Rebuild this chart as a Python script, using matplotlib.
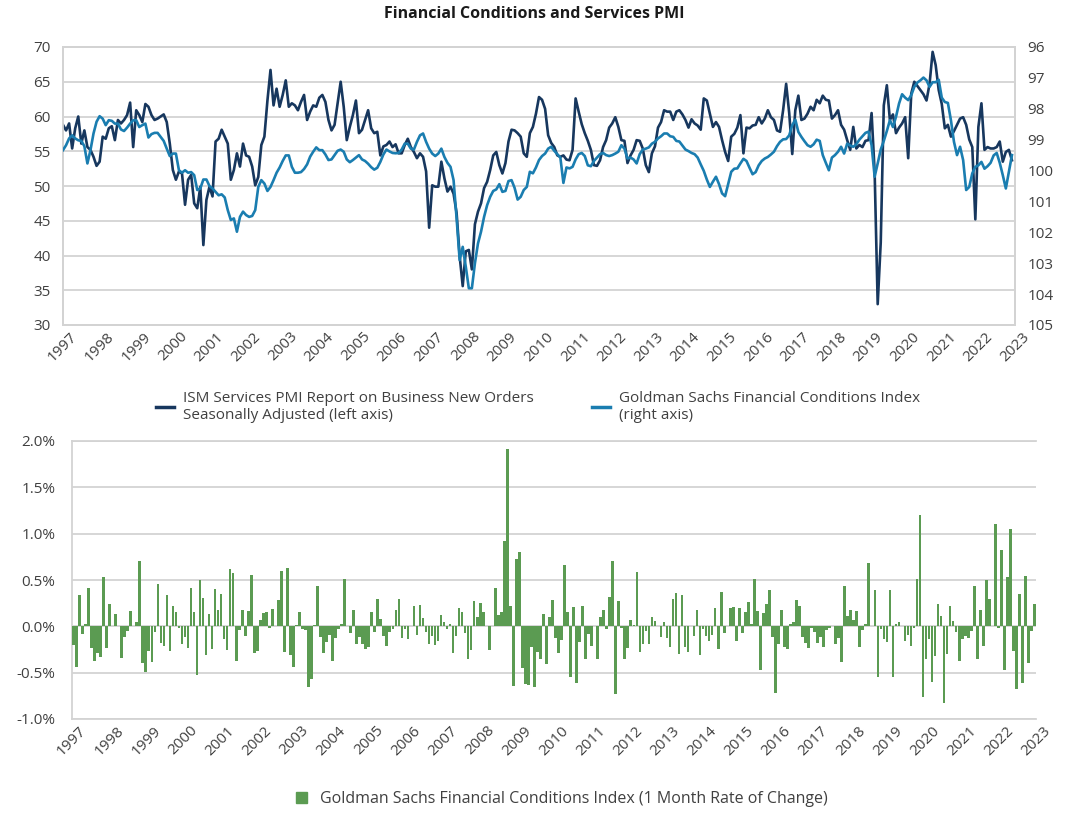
import numpy as np
import matplotlib
matplotlib.use("Agg")
import matplotlib.pyplot as plt
from matplotlib.lines import Line2D
from matplotlib.patches import Patch

plt.rcParams['font.family'] = ['Open Sans', 'DejaVu Sans']

# ISM Services New Orders, monthly (left axis)
ism = [
    58.8, 58.0, 59.0, 55.4, 58.3, 60.0, 56.1, 58.0, 55.6, 55.2, 54.2, 52.9,
    53.5, 57.1, 56.8, 58.3, 58.6, 56.6, 59.5, 59.0, 59.5, 60.2, 62.0, 55.6,
    60.9, 60.2, 59.2, 61.8, 61.4, 60.2, 59.5, 59.7, 60.0, 60.3, 59.2, 56.1,
    52.3, 50.9, 52.1, 51.8, 47.3, 50.9, 51.6, 47.5, 46.8, 49.9, 41.5, 48.0,
    49.9, 48.5, 56.4, 56.8, 58.1, 57.1, 56.1, 50.9, 52.3, 54.7, 52.8, 56.1,
    54.4, 54.2, 52.8, 50.1, 51.3, 55.9, 57.1, 62.3, 66.7, 61.6, 64.0, 61.4,
    63.1, 65.2, 61.4, 61.9, 61.6, 60.9, 62.1, 63.1, 59.5, 60.7, 61.6, 61.4,
    62.7, 63.1, 62.1, 59.5, 58.0, 58.8, 61.9, 65.0, 61.4, 56.6, 58.5, 60.2,
    62.3, 57.6, 58.1, 59.5, 60.9, 58.3, 57.6, 57.8, 54.4, 55.7, 55.9, 56.4,
    55.6, 56.0, 54.7, 54.7, 55.9, 56.8, 55.6, 54.9, 54.0, 54.7, 54.2, 52.1,
    44.0, 50.1, 49.9, 49.9, 53.5, 51.1, 49.2, 49.9, 48.9, 46.1, 39.9, 35.6,
    40.6, 40.8, 38.0, 44.5, 46.3, 47.5, 49.7, 50.6, 52.3, 54.4, 54.9, 53.0,
    51.8, 53.3, 56.4, 58.1, 58.0, 57.6, 57.1, 54.7, 54.2, 57.6, 58.5, 60.4,
    62.8, 62.4, 61.1, 57.3, 56.2, 55.6, 54.4, 54.2, 54.4, 53.8, 53.7, 55.2,
    62.6, 60.7, 58.9, 57.6, 56.5, 55.2, 53.0, 52.9, 53.7, 55.6, 56.6, 58.4,
    59.0, 59.9, 58.5, 56.6, 56.5, 53.3, 54.4, 55.2, 56.6, 56.5, 55.4, 53.0,
    52.0, 54.7, 55.7, 58.4, 59.2, 60.9, 60.7, 60.7, 59.5, 60.7, 60.9, 60.3,
    59.5, 58.4, 59.6, 59.0, 58.7, 58.1, 62.6, 62.3, 60.4, 58.5, 59.2, 58.5,
    56.6, 54.9, 53.6, 57.1, 57.5, 58.4, 60.2, 54.7, 58.4, 58.3, 58.7, 58.8,
    59.9, 59.0, 59.7, 60.9, 59.9, 59.5, 58.0, 57.8, 60.9, 64.7, 60.5, 54.6,
    60.9, 63.0, 59.5, 59.7, 60.4, 61.4, 60.9, 62.4, 61.9, 63.0, 62.4, 62.3,
    59.7, 60.2, 60.9, 58.8, 58.1, 56.6, 55.2, 58.5, 55.4, 55.9, 55.6, 56.5,
    56.6, 60.5, 52.0, 33.0, 41.9, 61.6, 64.5, 59.5, 60.3, 57.6, 58.4, 59.0,
    59.9, 54.0, 63.3, 65.0, 64.4, 63.8, 63.2, 62.3, 64.7, 69.3, 67.4, 63.8,
    61.8, 58.3, 58.8, 57.1, 57.9, 58.8, 59.7, 59.9, 58.8, 56.7, 55.6, 45.2,
    58.5, 61.9, 55.2, 55.6, 55.4, 55.4, 55.6, 56.4, 53.5, 54.9, 55.2, 53.7,
]

# Goldman Sachs Financial Conditions Index, monthly (right axis)
gsfci = [
    99.34, 99.18, 98.96, 98.86, 98.96, 99.02, 99.04, 99.21, 99.77, 99.34, 98.80, 98.42,
    98.24, 98.32, 98.53, 98.37, 98.39, 98.48, 98.48, 98.67, 98.72, 98.61, 98.48, 98.37,
    98.37, 98.59, 98.53, 98.48, 98.93, 98.82, 98.78, 98.78, 98.91, 99.04, 99.29, 99.53,
    99.45, 99.45, 99.99, 100.07, 99.99, 100.07, 100.05, 100.15, 100.63, 100.58, 100.29, 100.29,
    100.50, 100.58, 100.69, 100.80, 100.77, 100.87, 101.28, 101.60, 101.55, 101.98, 101.50, 101.33,
    101.44, 101.50, 101.47, 101.28, 100.53, 100.31, 100.42, 100.66, 100.53, 100.31, 100.07, 99.90,
    99.69, 99.51, 99.51, 99.88, 100.07, 100.07, 100.05, 99.95, 99.80, 99.55, 99.39, 99.25,
    99.34, 99.34, 99.48, 99.66, 99.64, 99.50, 99.36, 99.32, 99.39, 99.64, 99.73, 99.66,
    99.58, 99.50, 99.64, 99.69, 99.78, 99.89, 99.97, 99.91, 99.72, 99.48, 99.32, 99.38,
    99.43, 99.44, 99.43, 99.32, 99.13, 99.13, 99.29, 99.32, 99.07, 98.86, 98.80, 99.07,
    99.29, 99.45, 99.53, 99.45, 99.29, 99.56, 99.75, 99.88, 100.31, 101.55, 102.90, 102.47,
    103.11, 103.81, 103.81, 103.00, 102.36, 101.98, 101.50, 101.12, 100.85, 100.66, 100.61, 100.44,
    100.69, 100.66, 100.34, 100.31, 100.56, 100.94, 100.85, 100.63, 100.53, 100.04, 100.09, 99.90,
    99.66, 99.53, 99.45, 99.29, 99.23, 99.36, 99.47, 99.58, 100.40, 99.90, 99.93, 99.88,
    99.64, 99.47, 99.43, 99.53, 99.83, 99.86, 99.69, 99.58, 99.47, 99.43, 99.50, 99.53,
    99.50, 99.45, 99.39, 99.18, 99.29, 99.61, 99.58, 99.64, 99.77, 99.47, 99.32, 99.29,
    99.25, 99.13, 99.07, 98.96, 98.89, 98.80, 98.80, 98.89, 98.91, 99.04, 99.06, 99.19,
    99.32, 99.37, 99.43, 99.47, 99.58, 99.80, 100.01, 100.29, 100.53, 100.36, 100.20, 100.44,
    100.74, 100.83, 100.44, 100.04, 99.94, 99.93, 99.77, 99.62, 99.69, 99.91, 100.12, 100.05,
    99.83, 99.69, 99.61, 99.56, 99.48, 99.39, 99.21, 99.07, 98.99, 98.98, 98.86, 98.53,
    98.35, 98.75, 98.91, 99.05, 99.18, 99.23, 99.15, 99.00, 99.04, 99.50, 99.75, 99.99,
    99.58, 99.50, 99.39, 99.23, 99.45, 99.13, 99.19, 99.23, 99.15, 99.00, 98.89, 98.78,
    98.74, 99.18, 100.20, 99.77, 99.32, 99.04, 98.72, 98.37, 98.59, 98.26, 97.83, 97.53,
    97.64, 97.72, 97.56, 97.29, 97.15, 97.08, 96.99, 97.08, 97.29, 97.14, 97.14, 97.06,
    97.64, 97.78, 97.81, 98.37, 99.07, 99.50, 99.23, 99.66, 100.63, 100.53, 100.09, 99.88,
    99.83, 99.72, 99.94, 99.86, 99.75, 99.51, 99.43, 99.75, 100.15, 100.58, 100.04, 99.50,
]

# GSFCI 1-month rate of change, % (bottom panel)
gsfci_chg = [
    -0.205, -0.44, 0.335, -0.08, 0.03, 0.41, -0.23, -0.37, -0.29, -0.33, 0.53, -0.23,
    0.245, 0.0, 0.13, 0.0, -0.34, -0.115, -0.05, 0.17, 0.0, 0.047, 0.70, -0.40,
    -0.49, -0.27, -0.385, -0.06, 0.46, -0.18, -0.21, 0.335, -0.27, 0.215, 0.15, -0.02,
    -0.19, -0.11, -0.23, 0.41, 0.16, -0.52, 0.50, 0.31, -0.31, 0.13, -0.245, 0.40,
    0.18, 0.35, -0.14, -0.26, 0.62, 0.58, -0.37, -0.04, 0.18, -0.10, 0.17, 0.55,
    -0.29, -0.27, 0.07, 0.14, 0.15, -0.02, 0.19, 0.0, 0.28, 0.60, -0.28, 0.63,
    -0.31, -0.44, 0.01, 0.15, -0.025, -0.04, -0.66, -0.57, 0.01, 0.44, -0.115, -0.29,
    -0.17, -0.09, -0.37, -0.125, -0.025, 0.03, 0.515, 0.0, -0.07, 0.18, -0.19, -0.115,
    -0.19, -0.25, -0.22, 0.16, -0.06, 0.30, 0.075, -0.105, -0.21, -0.06, -0.03, 0.18,
    0.29, -0.125, -0.03, -0.135, 0.0, 0.215, -0.09, 0.225, 0.095, -0.06, -0.19, -0.10,
    -0.20, -0.16, 0.12, 0.045, -0.025, 0.03, -0.285, -0.105, 0.195, 0.15, -0.07, -0.35,
    -0.255, 0.27, 0.10, 0.25, 0.15, 0.0, -0.255, 0.0, 0.41, 0.12, 0.15, 0.92,
    1.91, 0.22, -0.64, 0.73, 0.80, -0.45, -0.62, -0.63, -0.22, -0.655, -0.28, -0.35,
    0.13, -0.41, 0.10, 0.28, -0.125, -0.285, -0.145, 0.665, 0.15, -0.55, 0.205, -0.61,
    -0.17, 0.215, -0.35, -0.08, -0.21, 0.0, -0.35, 0.10, 0.18, -0.025, 0.32, 0.70,
    -0.73, 0.27, -0.02, -0.35, -0.235, 0.065, 0.01, 0.585, -0.275, -0.19, -0.05, -0.19,
    0.10, 0.055, 0.0, -0.115, 0.045, -0.125, -0.22, 0.30, 0.355, -0.30, 0.335, -0.22,
    -0.275, 0.0, -0.105, 0.18, -0.31, -0.025, -0.105, -0.16, -0.095, 0.195, -0.245, 0.37,
    -0.07, 0.0, 0.195, 0.205, -0.16, 0.195, -0.07, 0.16, 0.26, 0.03, 0.51, 0.17,
    -0.47, 0.14, 0.24, 0.39, -0.115, -0.72, -0.19, 0.18, -0.22, -0.245, 0.03, 0.045,
    0.28, 0.215, -0.115, -0.175, -0.235, -0.02, -0.06, -0.18, -0.115, -0.22, -0.04, -0.02,
    0.0, -0.19, -0.125, -0.385, 0.43, 0.11, 0.18, 0.065, 0.17, -0.22, -0.04, 0.02,
    0.68, 0.0, 0.39, -0.55, -0.03, -0.14, -0.17, 0.39, -0.55, 0.03, 0.05, 0.0,
    -0.16, -0.095, -0.21, -0.02, 0.51, 1.20, -0.76, -0.35, -0.14, -0.60, -0.32, 0.245,
    0.11, -0.83, -0.30, 0.215, 0.055, -0.06, -0.37, -0.14, -0.10, -0.13, -0.05, 0.43,
    -0.35, 0.18, -0.21, 0.50, 0.29, 0.0, 1.10, -0.02, 0.82, -0.475, 0.53, 1.05,
    -0.27, -0.68, 0.345, -0.61, 0.54, -0.40, -0.05, 0.24,
]

year_labels = [str(y) for y in range(1997, 2024)]

navy = '#17375e'
blue = '#1a7db0'
green = '#5b9b52'
grid_c = '#d3d3d3'
text_c = '#404040'

W, H = 1068, 814
fig = plt.figure(figsize=(W / 100, H / 100), dpi=100)

fig.text(0.5, 1 - 14 / H, 'Financial Conditions and Services PMI', ha='center', va='center',
         fontsize=11.5, fontweight='bold', color='#1a1a1a')

# ---- top panel
ax1 = fig.add_axes([63 / W, 1 - 325 / H, (1015 - 63) / W, (325 - 47) / H])
ax2 = ax1.twinx()

x = np.arange(len(ism))
ax1.plot(x, ism, color=navy, lw=1.9, zorder=3)
ax2.plot(np.arange(len(gsfci)), gsfci, color=blue, lw=1.9, zorder=3)

ax1.set_xlim(0, 312)
ax1.set_ylim(30, 70)
ax1.set_yticks(np.arange(30, 71, 5))
ax2.set_ylim(105, 96)
ax2.set_yticks(np.arange(96, 106, 1))
ax1.yaxis.grid(True, color=grid_c, lw=1.3)
ax1.set_axisbelow(True)
ax1.set_xticks(np.linspace(0, 312, 27))
ax1.set_xticklabels(year_labels, rotation=45, ha='center', va='top')

for a in (ax1, ax2):
    for s in a.spines.values():
        s.set_color(grid_c)
        s.set_linewidth(1.3)
    a.tick_params(length=0, labelsize=11, colors=text_c, pad=9)
ax1.tick_params(axis='x', pad=3)

fig.legend(handles=[Line2D([], [], color=navy, lw=2.5), Line2D([], [], color=blue, lw=2.5)],
           labels=['ISM Services PMI Report on Business New Orders\nSeasonally Adjusted (left axis)',
                   'Goldman Sachs Financial Conditions Index\n(right axis)'],
           loc='center', bbox_to_anchor=(538 / W, 1 - 407 / H), ncol=2, frameon=False,
           fontsize=11, labelcolor=text_c, handlelength=1.2, handletextpad=0.6,
           columnspacing=3.8)

# ---- bottom panel
ax3 = fig.add_axes([72 / W, 1 - 719 / H, (1036 - 72) / W, (719 - 441) / H])
xb = np.arange(len(gsfci_chg))
ax3.bar(xb, gsfci_chg, width=0.88, color=green, zorder=3)
ax3.set_xlim(-0.5, len(gsfci_chg) - 0.5)
ax3.set_ylim(-1.0, 2.0)
ax3.set_yticks(np.arange(-1.0, 2.01, 0.5))
ax3.set_yticklabels(['%.1f%%' % v for v in np.arange(-1.0, 2.01, 0.5)])
ax3.yaxis.grid(True, color=grid_c, lw=1.3)
ax3.set_axisbelow(True)
ax3.set_xticks(np.linspace(-0.5, len(gsfci_chg) - 0.5, 27))
ax3.set_xticklabels(year_labels, rotation=45, ha='center', va='top')
for s in ax3.spines.values():
    s.set_color(grid_c)
    s.set_linewidth(1.3)
ax3.spines['right'].set_visible(False)
ax3.tick_params(length=0, labelsize=11, colors=text_c, pad=12)
ax3.tick_params(axis='x', pad=3)

fig.legend(handles=[Patch(color=green)],
           labels=['Goldman Sachs Financial Conditions Index (1 Month Rate of Change)'],
           loc='center', bbox_to_anchor=(562 / W, 1 - 799 / H), frameon=False,
           fontsize=11.5, labelcolor=text_c, handlelength=0.7, handleheight=0.7,
           handletextpad=0.8)

fig.savefig('out.png', dpi=100)
